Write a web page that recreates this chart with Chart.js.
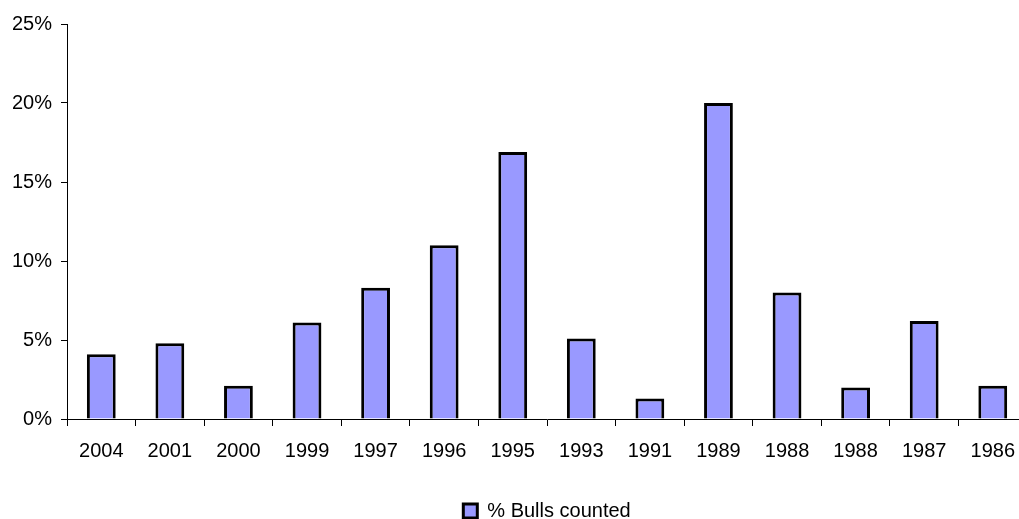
<!DOCTYPE html>
<html>
<head>
<meta charset="utf-8">
<script src="https://cdn.jsdelivr.net/npm/chart.js@4/dist/chart.umd.min.js"></script>
<style>
  html, body { margin: 0; padding: 0; background: #ffffff; overflow: hidden; }
  #wrap { position: relative; width: 1028px; height: 519px; }
</style>
</head>
<body>
<div id="wrap"><canvas id="chart" width="1028" height="519"></canvas></div>
<script>
// Season labels along the x axis
const years = ['2004', '2001', '2000', '1999', '1997', '1996', '1995', '1993', '1991', '1989', '1988', '1988', '1987', '1986'];
// Share of bulls counted, in percent
const bullsCounted = [4.1, 4.8, 2.1, 6.1, 8.3, 11.0, 16.9, 5.1, 1.3, 20.0, 8.0, 2.0, 6.2, 2.1];
// Y axis range and step, in percent
const yMin = 0;
const yMax = 25;
const yStep = 5;

const FONT = { family: '"Liberation Sans", Arial, sans-serif', size: 20 };
const LEGEND_H = 34;
const PAD_BOTTOM = -12;
const AXIS_Y = 419;

new Chart(document.getElementById('chart'), {
  type: 'bar',
  data: {
    labels: years,
    datasets: [{
      label: '% Bulls counted',
      data: bullsCounted,
      backgroundColor: '#9999ff',
      borderColor: '#000000',
      borderWidth: 3,
      barPercentage: 0.42,
      categoryPercentage: 1.0
    }]
  },
  options: {
    responsive: false,
    animation: false,
    layout: { padding: { top: 24, left: 0, right: 0, bottom: PAD_BOTTOM } },
    plugins: {
      tooltip: { enabled: false },
      legend: {
        position: 'bottom',
        fullSize: false,
        labels: {
          font: FONT,
          color: '#000000',
          boxWidth: 14,
          boxHeight: 14,
          padding: 4
        }
      }
    },
    scales: {
      x: {
        grid: { display: true, drawOnChartArea: false, offset: true, tickLength: 7, color: '#000000', lineWidth: 1 },
        border: { display: true, color: '#000000', width: 1 },
        ticks: { font: FONT, color: '#000000', padding: 13, maxRotation: 0, autoSkip: false },
        afterFit: (scale) => { scale.height = 519 - PAD_BOTTOM - LEGEND_H - AXIS_Y; }
      },
      y: {
        min: yMin,
        max: yMax,
        grid: { display: true, drawOnChartArea: false, tickLength: 6, color: '#000000', lineWidth: 1 },
        border: { display: true, color: '#000000', width: 1 },
        ticks: {
          stepSize: yStep,
          font: FONT,
          color: '#000000',
          padding: 9,
          callback: (v) => v + '%'
        },
        afterFit: (scale) => { scale.width = 67; }
      }
    }
  }
});
</script>
</body>
</html>
